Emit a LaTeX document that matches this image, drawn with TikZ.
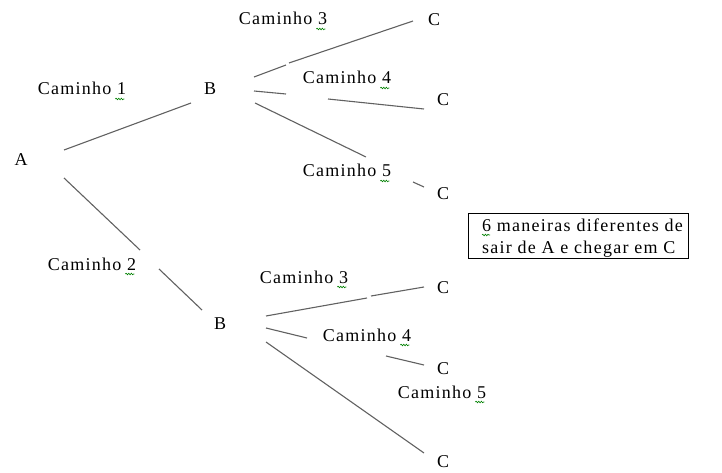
\documentclass[tikz,border=0pt]{standalone}
\usepackage{fontspec}
\setmainfont{Liberation Serif}[LetterSpace=7]
\usetikzlibrary{decorations.pathmorphing,calc}
\begin{document}
\begin{tikzpicture}[x=1pt,y=-1pt,
  lbl/.style={font=\fontsize{18}{21}\selectfont, inner sep=0pt, anchor=base},
  edge/.style={draw=black!62, line width=1.1pt},
  squig/.style={draw=green!50!black, line width=0.6pt, decorate, decoration={snake, amplitude=0.8pt, segment length=2.6pt}},
  boxst/.style={draw=black, line width=0.9pt, minimum width=220pt, minimum height=45pt, inner sep=0pt}]
\useasboundingbox (0,0) rectangle (722,473);
% letters
\node[lbl] (A)  at (21,166) {A};
\node[lbl] (B1) at (210,95) {B};
\node[lbl] (B2) at (220,329) {B};
\node[lbl] (C1) at (434,26) {C};
\node[lbl] (C2) at (443,106) {C};
\node[lbl] (C3) at (443,199) {C};
\node[lbl] (C4) at (443,293) {C};
\node[lbl] (C5) at (443,374) {C};
\node[lbl] (C6) at (443,467) {C};
% path labels
\node[lbl] (cam1)  at (82,95)   {Caminho 1};
\node[lbl] (cam2)  at (92,270)  {Caminho 2};
\node[lbl] (cam3a) at (283,25)  {Caminho 3};
\node[lbl] (cam4a) at (347,84)  {Caminho 4};
\node[lbl] (cam5a) at (347,177) {Caminho 5};
\node[lbl] (cam3b) at (304,283) {Caminho 3};
\node[lbl] (cam4b) at (367,341) {Caminho 4};
\node[lbl] (cam5b) at (442,398) {Caminho 5};
% spelling squiggles under the digits
\foreach \n in {cam1,cam2,cam3a,cam4a,cam5a,cam3b,cam4b,cam5b}
  \draw[squig] ($(\n.base east)+(-11,4)$) -- ($(\n.base east)+(-2,4)$);
% result box
\node[boxst] (res) at (578,235.5) {};
\node[lbl, anchor=base west] (resl1) at (482,231) {6 maneiras diferentes de};
\node[lbl, anchor=base west] (resl2) at (482,253) {sair de A e chegar em C};
\draw[squig] ($(resl1.base west)+(0,4)$) -- ($(resl1.base west)+(8,4)$);
% connector end points
\coordinate (a1) at (64,150);  \coordinate (b1in) at (191,103);
\coordinate (a2) at (64,178);  \coordinate (g1) at (140,250);
\coordinate (g2) at (159,269); \coordinate (b2in) at (202,310);
\coordinate (p1) at (254,77);  \coordinate (p2) at (286,65);
\coordinate (p3) at (289,63);  \coordinate (c1in) at (413,21);
\coordinate (q1) at (254,91);  \coordinate (q2) at (286,94);
\coordinate (q3) at (328,99);  \coordinate (c2in) at (424,109);
\coordinate (r1) at (255,103); \coordinate (r2) at (366,157);
\coordinate (r3) at (413,182); \coordinate (c3in) at (424,187);
\coordinate (s1) at (266,316); \coordinate (s2) at (367,298);
\coordinate (s3) at (371,296); \coordinate (c4in) at (424,287);
\coordinate (t1) at (266,328); \coordinate (t2) at (307,338);
\coordinate (t3) at (386,356); \coordinate (c5in) at (424,365);
\coordinate (u1) at (266,342); \coordinate (c6in) at (424,453);
% connectors
\draw[edge] (a1) -- (b1in);
\draw[edge] (a2) -- (g1);
\draw[edge] (g2) -- (b2in);
\draw[edge] (p1) -- (p2);
\draw[edge] (p3) -- (c1in);
\draw[edge] (q1) -- (q2);
\draw[edge] (q3) -- (c2in);
\draw[edge] (r1) -- (r2);
\draw[edge] (r3) -- (c3in);
\draw[edge] (s1) -- (s2);
\draw[edge] (s3) -- (c4in);
\draw[edge] (t1) -- (t2);
\draw[edge] (t3) -- (c5in);
\draw[edge] (u1) -- (c6in);
\end{tikzpicture}
\end{document}
